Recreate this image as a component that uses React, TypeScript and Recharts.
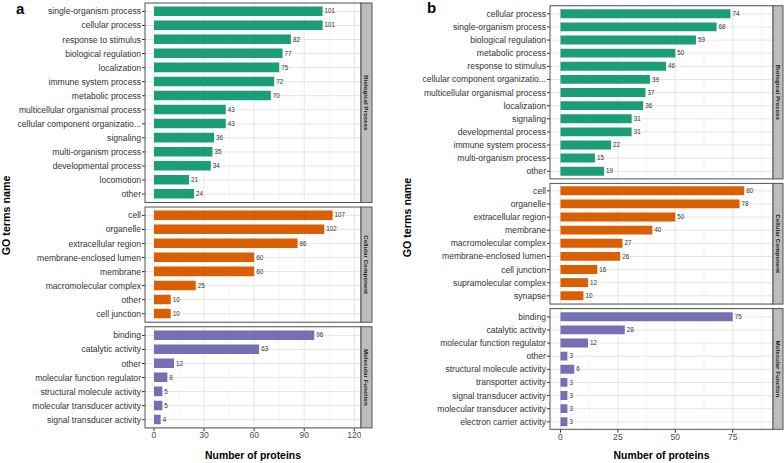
import React from "react";
import { BarChart, Bar, XAxis, YAxis, CartesianGrid, LabelList } from "recharts";

const FONT = '"Liberation Sans", Arial, Helvetica, sans-serif';

// ---- Panel a data ----
const aBioTerms = ["single-organism process", "cellular process", "response to stimulus", "biological regulation", "localization", "immune system process", "metabolic process", "multicellular organismal process", "cellular component organizatio...", "signaling", "multi-organism process", "developmental process", "locomotion", "other"];
const aBioCounts = [101, 101, 82, 77, 75, 72, 70, 43, 43, 36, 35, 34, 21, 24];
const aCellTerms = ["cell", "organelle", "extracellular region", "membrane-enclosed lumen", "membrane", "macromolecular complex", "other", "cell junction"];
const aCellCounts = [107, 102, 86, 60, 60, 25, 10, 10];
const aMolTerms = ["binding", "catalytic activity", "other", "molecular function regulator", "structural molecule activity", "molecular transducer activity", "signal transducer activity"];
const aMolCounts = [96, 63, 12, 8, 5, 5, 4];

// ---- Panel b data ----
const bBioTerms = ["cellular process", "single-organism process", "biological regulation", "metabolic process", "response to stimulus", "cellular component organizatio...", "multicellular organismal process", "localization", "signaling", "developmental process", "immune system process", "multi-organism process", "other"];
const bBioCounts = [74, 68, 59, 50, 46, 39, 37, 36, 31, 31, 22, 15, 19];
const bCellTerms = ["cell", "organelle", "extracellular region", "membrane", "macromolecular complex", "membrane-enclosed lumen", "cell junction", "supramolecular complex", "synapse"];
const bCellCounts = [80, 78, 50, 40, 27, 26, 16, 12, 10];
const bMolTerms = ["binding", "catalytic activity", "molecular function regulator", "other", "structural molecule activity", "transporter activity", "signal transducer activity", "molecular transducer activity", "electron carrier activity"];
const bMolCounts = [75, 28, 12, 3, 6, 3, 3, 3, 3];

// ---- axis ticks / labels ----
const aMajor = [0, 30, 60, 90, 120];
const aMinor = [15, 45, 75, 105];
const bMajor = [0, 25, 50, 75];
const bMinor = [12.5, 37.5, 62.5, 87.5];
const facetNames = ["Biological Process", "Cellular Component", "Molecular Function"];
const facetColors = ["#1b9e77", "#d95f02", "#7570b3"];
const panelLetters = ["a", "b"];
const xTitle = "Number of proteins";
const yTitle = "GO terms name";

type FacetProps = {
  terms: string[];
  counts: number[];
  color: string;
  chartLeft: number;
  top: number;
  plotLeft: number;
  plotRight: number;
  domain: [number, number];
  major: number[];
  minor: number[];
  step: number;
  showAxis: boolean;
};

function facetHeight(n: number, step: number) {
  return (n + 0.2) * step;
}

const YTick = (props: any) => {
  const { x, y, payload } = props;
  return (
    <text x={x} y={y} dy="0.35em" textAnchor="end" fontSize={8.6} fill="#333" fontFamily={FONT}>
      {payload.value}
    </text>
  );
};

function Facet(p: FacetProps) {
  const data = p.terms.map((t, i) => ({ term: t, value: p.counts[i] }));
  const panelH = facetHeight(p.terms.length, p.step);
  const axisH = p.showAxis ? 24 : 0;
  const width = p.plotRight - p.chartLeft;
  return (
    <div style={{ position: "absolute", left: p.chartLeft, top: p.top }}>
      <BarChart
        width={width}
        height={panelH + axisH}
        data={data}
        layout="vertical"
        margin={{ top: 0, right: 0, bottom: 0, left: 0 }}
        barCategoryGap={0}
        style={{ fontFamily: FONT }}
      >
        <CartesianGrid stroke="#ebebeb" strokeWidth={0.6} horizontal={false} vertical={true} verticalValues={p.minor} />
        <CartesianGrid stroke="#e6e6e6" strokeWidth={1} horizontal={true} vertical={true} verticalValues={p.major} />
        <XAxis
          type="number"
          dataKey="value"
          domain={p.domain}
          allowDataOverflow
          hide={!p.showAxis}
          ticks={p.major}
          height={axisH}
          tickSize={3}
          tickMargin={1}
          axisLine={false}
          tickLine={{ stroke: "#333", strokeWidth: 1 }}
          tick={{ fontSize: 8.6, fill: "#4d4d4d", fontFamily: FONT }}
          interval={0}
        />
        <YAxis
          type="category"
          dataKey="term"
          width={p.plotLeft - p.chartLeft}
          padding={{ top: 0.1 * p.step, bottom: 0.1 * p.step }}
          tickSize={3}
          tickMargin={1}
          axisLine={false}
          tickLine={{ stroke: "#333", strokeWidth: 1 }}
          tick={YTick}
          interval={0}
        />
        <Bar dataKey="value" fill={p.color} barSize={p.step * 0.68} isAnimationActive={false}>
          <LabelList dataKey="value" position="right" offset={2} fontSize={6.3} fill="#333" fontFamily={FONT} />
        </Bar>
      </BarChart>
    </div>
  );
}

type PanelSpec = {
  letter: string;
  chartLeft: number;
  plotLeft: number;
  plotRight: number;
  stripW: number;
  domain: [number, number];
  major: number[];
  minor: number[];
  step: number;
  tops: number[];
  facets: { terms: string[]; counts: number[] }[];
  letterX: number;
  letterY: number;
  yTitleX: number;
};

const gap = 4.5;
function makeTops(first: number, facets: { terms: string[] }[], step: number) {
  const tops: number[] = [];
  let y = first;
  facets.forEach((f) => {
    tops.push(y);
    y += facetHeight(f.terms.length, step) + gap;
  });
  return tops;
}

const aFacets = [
  { terms: aBioTerms, counts: aBioCounts },
  { terms: aCellTerms, counts: aCellCounts },
  { terms: aMolTerms, counts: aMolCounts },
];
const bFacets = [
  { terms: bBioTerms, counts: bBioCounts },
  { terms: bCellTerms, counts: bCellCounts },
  { terms: bMolTerms, counts: bMolCounts },
];

const panels: PanelSpec[] = [
  {
    letter: panelLetters[0],
    chartLeft: 0,
    plotLeft: 145,
    plotRight: 361,
    stripW: 11,
    domain: [-5.4, 124.0],
    major: aMajor,
    minor: aMinor,
    step: 14.05,
    tops: makeTops(3, aFacets, 14.05),
    facets: aFacets,
    letterX: 16,
    letterY: 14,
    yTitleX: 6,
  },
  {
    letter: panelLetters[1],
    chartLeft: 384,
    plotLeft: 550,
    plotRight: 773,
    stripW: 10,
    domain: [-4.57, 92.55],
    major: bMajor,
    minor: bMinor,
    step: 13.12,
    tops: makeTops(5.7, bFacets, 13.12),
    facets: bFacets,
    letterX: 427,
    letterY: 13,
    yTitleX: 406.5,
  },
];

export default function App() {
  return (
    <div style={{ position: "fixed", left: 0, top: 0, width: 784, height: 463, background: "#fff", overflow: "hidden", fontFamily: FONT }}>
      {panels.map((P) =>
        P.facets.map((f, i) => (
          <Facet
            key={P.letter + i}
            terms={f.terms}
            counts={f.counts}
            color={facetColors[i]}
            chartLeft={P.chartLeft}
            top={P.tops[i]}
            plotLeft={P.plotLeft}
            plotRight={P.plotRight}
            domain={P.domain}
            major={P.major}
            minor={P.minor}
            step={P.step}
            showAxis={i === P.facets.length - 1}
          />
        ))
      )}
      <svg width={784} height={463} style={{ position: "absolute", left: 0, top: 0, pointerEvents: "none" }}>
        {panels.map((P) => {
          const firstTop = P.tops[0];
          const last = P.facets.length - 1;
          const lastBottom = P.tops[last] + facetHeight(P.facets[last].terms.length, P.step);
          const midY = (firstTop + lastBottom) / 2;
          return (
            <g key={P.letter}>
              {P.facets.map((f, i) => {
                const h = facetHeight(f.terms.length, P.step);
                const y = P.tops[i];
                return (
                  <g key={i}>
                    <rect x={P.plotLeft} y={y} width={P.plotRight - P.plotLeft} height={h} fill="none" stroke="#555" strokeWidth={1} />
                    <rect x={P.plotRight} y={y} width={P.stripW} height={h} fill="#bdbdbd" stroke="#555" strokeWidth={1} />
                    <text
                      transform={`translate(${P.plotRight + P.stripW / 2}, ${y + h / 2}) rotate(90)`}
                      textAnchor="middle"
                      dominantBaseline="central"
                      fontSize={6.2}
                      fontWeight="bold"
                      fill="#1a1a1a"
                      fontFamily={FONT}
                    >
                      {facetNames[i]}
                    </text>
                  </g>
                );
              })}
              <text x={P.letterX} y={P.letterY} fontSize={15} fontWeight="bold" fill="#000" fontFamily={FONT}>
                {P.letter}
              </text>
              <text
                transform={`translate(${P.yTitleX}, ${midY}) rotate(-90)`}
                textAnchor="middle"
                dominantBaseline="central"
                fontSize={10.7}
                fontWeight="bold"
                fill="#000"
                fontFamily={FONT}
              >
                {yTitle}
              </text>
              <text x={(P.plotLeft + P.plotRight) / 2} y={459.4} textAnchor="middle" fontSize={10.4} fontWeight="bold" fill="#000" fontFamily={FONT}>
                {xTitle}
              </text>
            </g>
          );
        })}
      </svg>
    </div>
  );
}
